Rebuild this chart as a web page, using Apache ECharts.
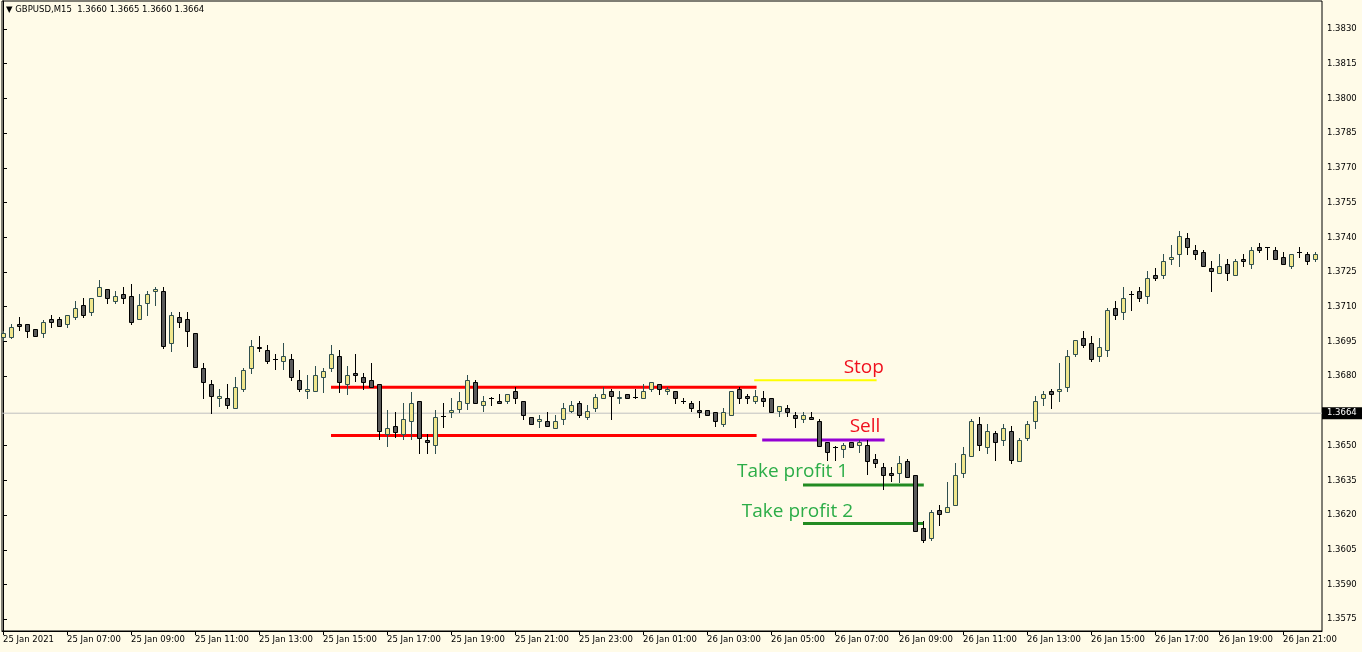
<!DOCTYPE html>
<html>
<head>
<meta charset="utf-8">
<title>GBPUSD,M15</title>
<script src="https://cdn.jsdelivr.net/npm/echarts@6.0.0/dist/echarts.min.js"></script>
<style>
  html, body { margin: 0; padding: 0; background: #fffbe8; }
  #main { width: 1362px; height: 652px; }
</style>
</head>
<body>
<div id="main"></div>
<script>
// 15 minute bars, 25 Jan 05:00 .. 26 Jan 22:00 (index 0..164)
var open = [
  1.36969, 1.36969, 1.37025, 1.37025, 1.37004, 1.36986, 1.37047, 1.37047, 1.37025, 1.37056,
  1.37107, 1.37077, 1.37146, 1.37177, 1.37125, 1.37155, 1.37146, 1.37047, 1.37116, 1.37168,
  1.37168, 1.36943, 1.37056, 1.37047, 1.36986, 1.36835, 1.36766, 1.36705, 1.36705, 1.36662,
  1.36744, 1.36835, 1.36926, 1.36913, 1.36874, 1.36866, 1.36874, 1.36783, 1.36736, 1.36736,
  1.36796, 1.36835, 1.36887, 1.36766, 1.36814, 1.36796, 1.36783, 1.36766, 1.36550, 1.36585,
  1.36550, 1.36606, 1.36693, 1.36524, 1.36503, 1.36628, 1.36645, 1.36658, 1.36684, 1.36775,
  1.36675, 1.36705, 1.36693, 1.36693, 1.36736, 1.36693, 1.36624, 1.36606, 1.36606, 1.36576,
  1.36615, 1.36650, 1.36684, 1.36624, 1.36662, 1.36705, 1.36736, 1.36705, 1.36723, 1.36710,
  1.36705, 1.36744, 1.36766, 1.36736, 1.36736, 1.36693, 1.36684, 1.36654, 1.36654, 1.36645,
  1.36593, 1.36632, 1.36744, 1.36714, 1.36693, 1.36705, 1.36705, 1.36650, 1.36662, 1.36632,
  1.36615, 1.36624, 1.36606, 1.36516, 1.36494, 1.36485, 1.36516, 1.36503, 1.36503, 1.36442,
  1.36408, 1.36382, 1.36382, 1.36434, 1.36373, 1.36144, 1.36101, 1.36222, 1.36213, 1.36244,
  1.36382, 1.36455, 1.36593, 1.36494, 1.36554, 1.36524, 1.36563, 1.36434, 1.36533, 1.36606,
  1.36705, 1.36736, 1.36736, 1.36753, 1.36896, 1.36965, 1.36943, 1.36887, 1.36913, 1.37095,
  1.37077, 1.37155, 1.37168, 1.37146, 1.37237, 1.37237, 1.37306, 1.37328, 1.37397, 1.37345,
  1.37336, 1.37267, 1.37246, 1.37285, 1.37237, 1.37306, 1.37285, 1.37358, 1.37358, 1.37345,
  1.37315, 1.37276, 1.37336, 1.37328, 1.37306
];
var high = [
  1.36995, 1.37025, 1.37056, 1.37025, 1.37004, 1.37043, 1.37064, 1.37056, 1.37064, 1.37125,
  1.37138, 1.37138, 1.37215, 1.37177, 1.37168, 1.37185, 1.37198, 1.37155, 1.37168, 1.37185,
  1.37185, 1.37077, 1.37077, 1.37077, 1.36986, 1.36857, 1.36783, 1.36744, 1.36766, 1.36796,
  1.36835, 1.36956, 1.36973, 1.36935, 1.36896, 1.36943, 1.36896, 1.36827, 1.36805, 1.36844,
  1.36835, 1.36935, 1.36913, 1.36844, 1.36896, 1.36814, 1.36857, 1.36766, 1.36654, 1.36645,
  1.36684, 1.36732, 1.36693, 1.36550, 1.36654, 1.36684, 1.36705, 1.36732, 1.36805, 1.36783,
  1.36714, 1.36710, 1.36723, 1.36723, 1.36753, 1.36693, 1.36624, 1.36632, 1.36645, 1.36632,
  1.36684, 1.36693, 1.36693, 1.36675, 1.36723, 1.36753, 1.36744, 1.36736, 1.36723, 1.36744,
  1.36766, 1.36775, 1.36766, 1.36753, 1.36736, 1.36705, 1.36693, 1.36693, 1.36654, 1.36645,
  1.36662, 1.36736, 1.36753, 1.36723, 1.36740, 1.36736, 1.36705, 1.36671, 1.36675, 1.36645,
  1.36645, 1.36645, 1.36615, 1.36516, 1.36498, 1.36511, 1.36516, 1.36524, 1.36524, 1.36464,
  1.36425, 1.36408, 1.36455, 1.36442, 1.36373, 1.36174, 1.36222, 1.36244, 1.36343, 1.36425,
  1.36494, 1.36615, 1.36624, 1.36593, 1.36563, 1.36593, 1.36585, 1.36533, 1.36606, 1.36714,
  1.36736, 1.36744, 1.36857, 1.36913, 1.36956, 1.36995, 1.36973, 1.36965, 1.37095, 1.37125,
  1.37185, 1.37168, 1.37185, 1.37254, 1.37267, 1.37327, 1.37367, 1.37427, 1.37419, 1.37367,
  1.37345, 1.37297, 1.37328, 1.37306, 1.37306, 1.37328, 1.37358, 1.37375, 1.37358, 1.37358,
  1.37336, 1.37328, 1.37358, 1.37336, 1.37336
];
var low = [
  1.36956, 1.36965, 1.36999, 1.36969, 1.36973, 1.36969, 1.37013, 1.37017, 1.37013, 1.37047,
  1.37056, 1.37064, 1.37146, 1.37116, 1.37116, 1.37116, 1.37025, 1.37047, 1.37064, 1.37107,
  1.36922, 1.36909, 1.37013, 1.36930, 1.36840, 1.36706, 1.36641, 1.36671, 1.36662, 1.36662,
  1.36736, 1.36814, 1.36909, 1.36857, 1.36831, 1.36831, 1.36783, 1.36736, 1.36705, 1.36736,
  1.36732, 1.36822, 1.36732, 1.36723, 1.36779, 1.36744, 1.36753, 1.36529, 1.36498, 1.36537,
  1.36529, 1.36529, 1.36468, 1.36468, 1.36468, 1.36580, 1.36624, 1.36645, 1.36658, 1.36684,
  1.36650, 1.36675, 1.36684, 1.36684, 1.36684, 1.36615, 1.36593, 1.36580, 1.36585, 1.36576,
  1.36593, 1.36645, 1.36624, 1.36615, 1.36650, 1.36705, 1.36615, 1.36684, 1.36705, 1.36705,
  1.36705, 1.36736, 1.36723, 1.36723, 1.36684, 1.36684, 1.36650, 1.36624, 1.36632, 1.36585,
  1.36585, 1.36632, 1.36684, 1.36684, 1.36684, 1.36671, 1.36645, 1.36628, 1.36628, 1.36580,
  1.36602, 1.36615, 1.36498, 1.36438, 1.36438, 1.36451, 1.36494, 1.36472, 1.36377, 1.36408,
  1.36313, 1.36347, 1.36343, 1.36364, 1.36131, 1.36083, 1.36092, 1.36157, 1.36213, 1.36244,
  1.36364, 1.36455, 1.36481, 1.36468, 1.36438, 1.36503, 1.36425, 1.36434, 1.36524, 1.36576,
  1.36675, 1.36662, 1.36693, 1.36736, 1.36887, 1.36926, 1.36866, 1.36866, 1.36887, 1.37047,
  1.37047, 1.37086, 1.37125, 1.37116, 1.37215, 1.37224, 1.37285, 1.37276, 1.37328, 1.37306,
  1.37276, 1.37168, 1.37246, 1.37215, 1.37237, 1.37276, 1.37267, 1.37336, 1.37306, 1.37306,
  1.37285, 1.37267, 1.37315, 1.37285, 1.37297
];
var close = [
  1.36986, 1.37013, 1.37017, 1.36995, 1.36973, 1.37034, 1.37034, 1.37017, 1.37064, 1.37095,
  1.37064, 1.37138, 1.37185, 1.37138, 1.37146, 1.37138, 1.37034, 1.37107, 1.37155, 1.37177,
  1.36930, 1.37064, 1.37034, 1.36995, 1.36840, 1.36775, 1.36714, 1.36714, 1.36675, 1.36753,
  1.36827, 1.36930, 1.36922, 1.36866, 1.36874, 1.36887, 1.36796, 1.36744, 1.36744, 1.36805,
  1.36822, 1.36896, 1.36775, 1.36805, 1.36805, 1.36775, 1.36753, 1.36563, 1.36576, 1.36559,
  1.36615, 1.36684, 1.36533, 1.36516, 1.36624, 1.36628, 1.36654, 1.36693, 1.36783, 1.36684,
  1.36693, 1.36705, 1.36684, 1.36723, 1.36705, 1.36632, 1.36593, 1.36615, 1.36585, 1.36606,
  1.36662, 1.36675, 1.36632, 1.36650, 1.36710, 1.36723, 1.36714, 1.36710, 1.36705, 1.36710,
  1.36736, 1.36775, 1.36744, 1.36744, 1.36705, 1.36693, 1.36662, 1.36645, 1.36632, 1.36606,
  1.36645, 1.36736, 1.36705, 1.36705, 1.36714, 1.36693, 1.36645, 1.36671, 1.36645, 1.36619,
  1.36632, 1.36615, 1.36498, 1.36472, 1.36494, 1.36503, 1.36494, 1.36516, 1.36434, 1.36425,
  1.36373, 1.36373, 1.36425, 1.36364, 1.36131, 1.36092, 1.36213, 1.36205, 1.36235, 1.36373,
  1.36464, 1.36606, 1.36503, 1.36563, 1.36516, 1.36576, 1.36438, 1.36524, 1.36593, 1.36693,
  1.36723, 1.36723, 1.36744, 1.36887, 1.36956, 1.36935, 1.36874, 1.36926, 1.37086, 1.37064,
  1.37138, 1.37155, 1.37138, 1.37224, 1.37224, 1.37297, 1.37315, 1.37405, 1.37358, 1.37328,
  1.37276, 1.37254, 1.37276, 1.37246, 1.37297, 1.37297, 1.37345, 1.37345, 1.37358, 1.37306,
  1.37285, 1.37328, 1.37336, 1.37297, 1.37328
];

// time axis labels, one every 8 bars
var xTickIdx = [0, 8, 16, 24, 32, 40, 48, 56, 64, 72, 80, 88, 96, 104, 112, 120, 128, 136, 144, 152, 160];
var xTickLabels = [
  '25 Jan 2021', '25 Jan 07:00', '25 Jan 09:00', '25 Jan 11:00', '25 Jan 13:00', '25 Jan 15:00',
  '25 Jan 17:00', '25 Jan 19:00', '25 Jan 21:00', '25 Jan 23:00', '26 Jan 01:00', '26 Jan 03:00',
  '26 Jan 05:00', '26 Jan 07:00', '26 Jan 09:00', '26 Jan 11:00', '26 Jan 13:00', '26 Jan 15:00',
  '26 Jan 17:00', '26 Jan 19:00', '26 Jan 21:00'
];
// price scale labels (1.3665 sits under the current price box)
var yTicks = [1.3575, 1.3590, 1.3605, 1.3620, 1.3635, 1.3650, 1.3680, 1.3695, 1.3710,
  1.3725, 1.3740, 1.3755, 1.3770, 1.3785, 1.3800, 1.3815, 1.3830];

var currentPrice = 1.3664;
var header = 'GBPUSD,M15  1.3660 1.3665 1.3660 1.3664';

// drawn objects: name, price level, start bar, end bar
var objNames = ['range top', 'range bottom', 'stop', 'sell', 'tp1', 'tp2'];
var objLevels = [1.36752, 1.36544, 1.36782, 1.36524, 1.36330, 1.36164];
var objFrom = [41, 41, 93.9, 94.9, 100, 100];
var objTo = [94.2, 94.2, 109.2, 110.2, 115.1, 115.1];
var objColors = ['#ff0000', '#ff0000', '#ffff00', '#9400d3', '#228b22', '#228b22'];
var objWidths = [3, 3, 2, 3, 3, 3];

var noteTexts = ['Stop', 'Sell', 'Take profit 1', 'Take profit 2'];
var noteBars = [107.6, 107.75, 98.7, 99.3];
var notePrices = [1.36836, 1.36583, 1.36386, 1.36214];
var noteColors = ['#f0101e', '#f0101e', '#2cad48', '#2cad48'];

var candles = open.map(function (o, i) {
  return [i, o, close[i], low[i], high[i]];
});

function renderCandle(params, api) {
  var k = api.value(0);
  var o = api.value(1), c = api.value(2), l = api.value(3), h = api.value(4);
  var pO = api.coord([k, o]);
  var pC = api.coord([k, c]);
  var yL = api.coord([k, l])[1];
  var yH = api.coord([k, h])[1];
  var x = Math.round(pO[0]) + 0.5;
  var bull = c > o;
  var edge = bull ? '#2f4f4f' : '#000000';
  var top = Math.round(Math.min(pO[1], pC[1])) + 0.5;
  var bottom = Math.round(Math.max(pO[1], pC[1])) + 0.5;
  var children = [{
    type: 'line',
    shape: { x1: x, y1: Math.round(yH), x2: x, y2: Math.round(yL) + 1 },
    style: { stroke: edge, lineWidth: 1 }
  }];
  if (bottom - top < 1) {
    children.push({
      type: 'line',
      shape: { x1: x - 2.5, y1: top, x2: x + 2.5, y2: top },
      style: { stroke: edge, lineWidth: 1 }
    });
  } else {
    children.push({
      type: 'rect',
      shape: { x: x - 2, y: top, width: 4, height: bottom - top },
      style: { fill: bull ? '#f0e68c' : '#5a5a5a', stroke: edge, lineWidth: 1 }
    });
  }
  return { type: 'group', children: children };
}

var series = [];

// current price line, its value boxed on the price scale
series.push({
  name: 'bid',
  type: 'line',
  silent: true,
  showSymbol: false,
  lineStyle: { color: '#c0c0c0', width: 1 },
  data: [[-0.125, currentPrice], [164.875, currentPrice]],
  endLabel: {
    show: true,
    distance: 0,
    formatter: currentPrice.toFixed(4),
    color: '#ffffff',
    backgroundColor: '#000000',
    padding: [2, 6, 1, 5],
    fontFamily: 'DejaVu Sans',
    fontSize: 8.5
  },
  z: 1
});

objNames.forEach(function (name, i) {
  series.push({
    name: name,
    type: 'line',
    silent: true,
    showSymbol: false,
    lineStyle: { color: objColors[i], width: objWidths[i] },
    data: [[objFrom[i], objLevels[i]], [objTo[i], objLevels[i]]]
  });
});

series.push({
  type: 'custom',
  name: 'GBPUSD',
  renderItem: renderCandle,
  encode: { x: 0, y: [1, 2, 3, 4] },
  data: candles,
  z: 5
});

series.push({
  type: 'scatter',
  silent: true,
  symbolSize: 0,
  itemStyle: { opacity: 1 },
  z: 6,
  data: noteTexts.map(function (t, i) {
    return {
      value: [noteBars[i], notePrices[i]],
      label: {
        show: true,
        position: 'inside',
        formatter: t,
        color: noteColors[i],
        opacity: 1,
        fontFamily: 'Open Sans',
        fontSize: 19
      }
    };
  })
});

var chart = echarts.init(document.getElementById('main'));
chart.setOption({
  animation: false,
  backgroundColor: '#fffbe8',
  grid: {
    left: 2, top: 1, width: 1320, height: 630,
    show: true, borderColor: '#000000', borderWidth: 1
  },
  graphic: [{
    type: 'text',
    left: 6,
    top: 5,
    style: { text: '\u25BC ' + header, font: '8.5px "DejaVu Sans"', fill: '#000000' }
  }],
  xAxis: {
    type: 'value',
    min: -0.125,
    max: 164.875,
    splitLine: { show: false },
    axisLine: { lineStyle: { color: '#000000' } },
    axisTick: { customValues: xTickIdx, length: 4, lineStyle: { color: '#000000' } },
    axisLabel: {
      customValues: xTickIdx,
      align: 'left',
      margin: 4,
      color: '#000000',
      fontFamily: 'DejaVu Sans',
      fontSize: 8.5,
      formatter: function (v) { return xTickLabels[xTickIdx.indexOf(Math.round(v))]; }
    }
  },
  yAxis: {
    type: 'value',
    position: 'right',
    min: 1.35699,
    max: 1.38421,
    scale: true,
    splitLine: { show: false },
    axisLine: { show: true, lineStyle: { color: '#000000' } },
    axisTick: { show: true, customValues: yTicks, length: 4, lineStyle: { color: '#000000' } },
    axisLabel: {
      customValues: yTicks,
      margin: 5,
      color: '#000000',
      fontFamily: 'DejaVu Sans',
      fontSize: 8.5,
      formatter: function (v) { return v.toFixed(4); }
    }
  },
  series: series
});
</script>
</body>
</html>
